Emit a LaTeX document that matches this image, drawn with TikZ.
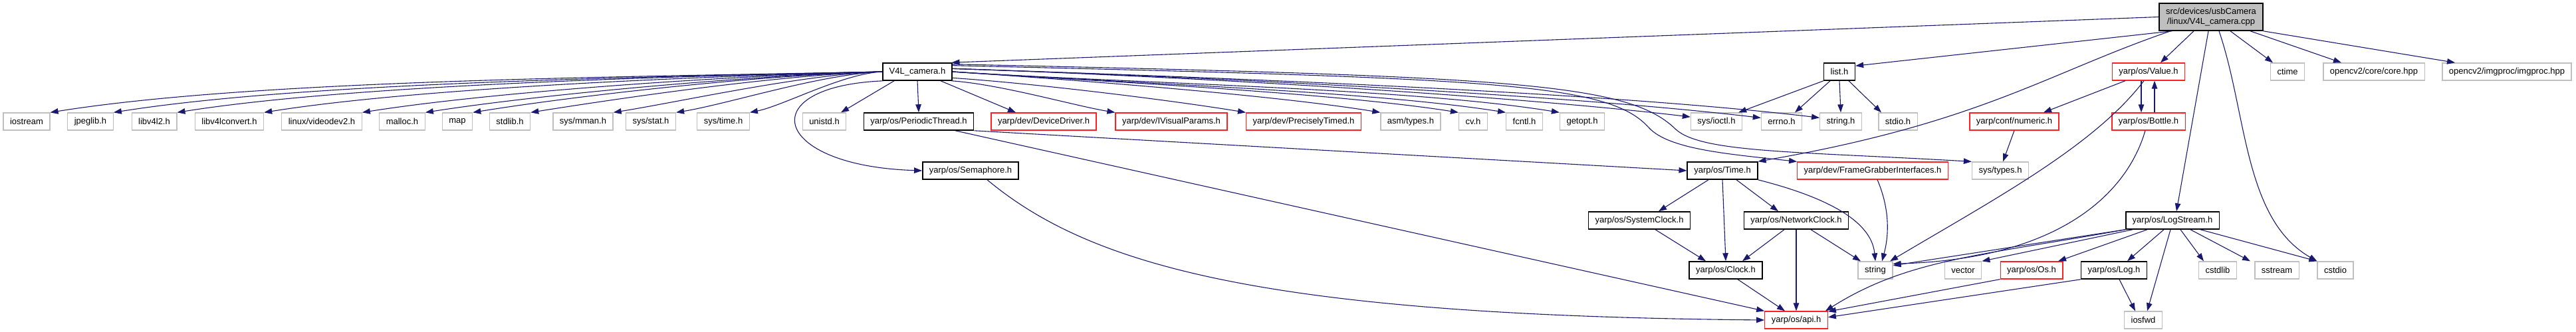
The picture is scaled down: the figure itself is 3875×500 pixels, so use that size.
\documentclass[tikz,border=0pt]{standalone}
\usepackage{fontspec}
\setmainfont{Liberation Sans}
\usetikzlibrary{arrows.meta}
\definecolor{edgeblue}{HTML}{191970}
\definecolor{boxgray}{HTML}{BFBFBF}
\definecolor{boxred}{HTML}{FF2020}
\tikzset{
  >={Triangle[length=12pt,width=8.5pt]},
  bx/.style={rectangle,draw,minimum height=26pt,inner xsep=10pt,inner ysep=0pt,line width=1.3pt,font=\fontsize{13}{15}\selectfont},
  hdr/.style={bx,draw=black,line width=1.6pt},
  sysh/.style={bx,draw=boxgray},
  trunc/.style={bx,draw=boxred},
  dep/.style={->,draw=edgeblue,line width=1.1pt},
}
\begin{document}
\begin{tikzpicture}[x=1pt,y=1pt]
\useasboundingbox (0,0) rectangle (3875,-500);
\node[hdr,fill=boxgray,align=center,minimum height=41pt] (root) at (3326,-25.5){src/devices/usbCamera\\/linux/V4L\_camera.cpp};
\node[hdr] (cam) at (1380,-108){V4L\_camera.h}; \node[hdr] (list) at (2767,-108){list.h};
\node[trunc] (value) at (3232,-108){yarp/os/Value.h}; \node[sysh] (ctime) at (3441,-108){ctime};
\node[sysh] (core) at (3571,-108){opencv2/core/core.hpp}; \node[sysh] (imgproc) at (3771,-108){opencv2/imgproc/imgproc.hpp};
\node[sysh] (iostr) at (40,-183){iostream}; \node[sysh] (jpeg) at (136,-183){jpeglib.h}; \node[sysh] (vtwo) at (232,-183){libv4l2.h};
\node[sysh] (vconv) at (345,-183){libv4lconvert.h}; \node[sysh] (vdev) at (484,-183){linux/videodev2.h}; \node[sysh] (malloc) at (605,-183){malloc.h};
\node[sysh] (map) at (688,-183){map}; \node[sysh] (stdlibh) at (767,-183){stdlib.h}; \node[sysh] (mman) at (877,-183){sys/mman.h};
\node[sysh] (stat) at (979,-183){sys/stat.h}; \node[sysh] (systime) at (1088,-183){sys/time.h}; \node[sysh] (unistd) at (1240,-183){unistd.h};
\node[hdr] (pthread) at (1382,-183){yarp/os/PeriodicThread.h}; \node[trunc] (devdrv) at (1570,-183){yarp/dev/DeviceDriver.h};
\node[trunc] (ivis) at (1762,-183){yarp/dev/IVisualParams.h}; \node[trunc] (ptimed) at (1961,-183){yarp/dev/PreciselyTimed.h};
\node[sysh] (asmt) at (2122,-183){asm/types.h}; \node[sysh] (cvh) at (2216,-183){cv.h}; \node[sysh] (fcntl) at (2293,-183){fcntl.h};
\node[sysh] (getopt) at (2380,-183){getopt.h}; \node[sysh] (ioctl) at (2582,-183){sys/ioctl.h}; \node[sysh] (errno) at (2680,-183){errno.h};
\node[sysh] (stringh) at (2769,-183){string.h}; \node[sysh] (stdio) at (2855,-183){stdio.h};
\node[trunc] (numeric) at (3030,-183){yarp/conf/numeric.h}; \node[trunc] (bottle) at (3232,-183){yarp/os/Bottle.h};
\node[hdr] (sem) at (1460,-257){yarp/os/Semaphore.h}; \node[hdr] (time) at (2591,-257){yarp/os/Time.h};
\node[trunc] (fgi) at (2817,-257){yarp/dev/FrameGrabberInterfaces.h}; \node[sysh] (systypes) at (3009,-257){sys/types.h};
\node[hdr] (sysclk) at (2466,-332){yarp/os/SystemClock.h}; \node[hdr] (netclk) at (2702,-332){yarp/os/NetworkClock.h};
\node[hdr] (logs) at (3268,-332){yarp/os/LogStream.h};
\node[hdr] (clock) at (2596,-407){yarp/os/Clock.h}; \node[sysh] (str) at (2821,-407){string}; \node[sysh] (vec) at (2953,-407){vector};
\node[trunc] (os) at (3056,-407){yarp/os/Os.h}; \node[hdr] (log) at (3180,-407){yarp/os/Log.h}; \node[sysh] (cstdlib) at (3336,-407){cstdlib};
\node[sysh] (sstream) at (3425,-407){sstream}; \node[sysh] (cstdio) at (3513,-407){cstdio};
\node[trunc] (api) at (2702,-482){yarp/os/api.h}; \node[sysh] (iosfwd) at (3224,-482){iosfwd};
\draw[dep] (root.west)--(cam.15); \draw[dep] (root.200)--(list.20); \draw[dep] ([xshift=-26pt]root.south)--([xshift=18pt]value.north);
\draw[dep] ([xshift=-61pt]root.south) .. controls (3080,-110) and (2980,-185) .. (time.north east);
\draw[dep] ([xshift=-4pt]root.south)--([xshift=6pt]logs.north);
\draw[dep] ([xshift=12pt]root.south) .. controls (3380,-170) and (3375,-330) .. (cstdio.north west);
\draw[dep] ([xshift=29pt]root.south)--([xshift=-22pt]ctime.north); \draw[dep] ([xshift=59pt]root.south)--([xshift=-49pt]core.north);
\draw[dep] (root.south east)--([xshift=-78pt]imgproc.north);
\draw[dep] (list.south west)--([xshift=-6pt]ioctl.north east); \draw[dep] ([xshift=-14pt]list.south)--([xshift=20pt]errno.north);
\draw[dep] (list.south)--(stringh.north); \draw[dep] ([xshift=14pt]list.south)--([xshift=-25pt]stdio.north);
\draw[dep] ([xshift=-35pt]value.south)--([xshift=44pt]numeric.north); \draw[dep] ([xshift=-11pt]value.south)--([xshift=-11pt]bottle.north);
\draw[dep] ([xshift=9pt]bottle.north)--([xshift=9pt]value.south);
\draw[dep] ([xshift=-7pt]value.south) .. controls (3150,-220) and (3000,-300) .. ([xshift=22pt]str.north);
\draw[dep] (numeric.south)--([xshift=4pt]systypes.north);
\draw[dep] ([xshift=-5pt]bottle.south) .. controls (3200,-290) and (3100,-390) .. (str.20);
\draw[dep] (cam.west) .. controls +(-375,-8) and +(313,50) .. (iostr.north east);
\draw[dep] (cam.west) .. controls +(-347,-8) and +(289,46) .. (jpeg.north east);
\draw[dep] (cam.west) .. controls +(-318,-7) and +(265,42) .. (vtwo.north east);
\draw[dep] (cam.west) .. controls +(-279,-7) and +(232,37) .. (vconv.north east);
\draw[dep] (cam.west) .. controls +(-235,-6) and +(196,31) .. (vdev.north east);
\draw[dep] (cam.west) .. controls +(-206,-6) and +(172,27) .. (malloc.north east);
\draw[dep] (cam.west) .. controls +(-185,-5) and +(154,25) .. (map.north east);
\draw[dep] (cam.west) .. controls +(-159,-5) and +(132,21) .. (stdlibh.north east);
\draw[dep] (cam.west) .. controls +(-119,-4) and +(100,16) .. (mman.north east);
\draw[dep] (cam.west) .. controls +(-94,-4) and +(79,13) .. (stat.north east);
\draw[dep] (cam.west) .. controls +(-60,-3) and +(50,10) .. (systime.north east);
\draw[dep] ([xshift=-35pt]cam.south)--([xshift=25pt]unistd.north); \draw[dep] (cam.south)--(pthread.north);
\draw[dep] ([xshift=35pt]cam.south)--([xshift=-42pt]devdrv.north);
\draw[dep] (cam.-15) .. controls +(73,-5) and +(-61,10) .. (ivis.north west);
\draw[dep] (cam.-10) .. controls +(132,-9) and +(-110,18) .. (ptimed.north west);
\draw[dep] (cam.east) .. controls +(193,-13) and +(-160,26) .. (asmt.north west);
\draw[dep] (cam.east) .. controls +(228,-15) and +(-190,30) .. (cvh.north west);
\draw[dep] (cam.east) .. controls +(249,-17) and +(-208,33) .. (fcntl.north west);
\draw[dep] (cam.east) .. controls +(274,-18) and +(-228,37) .. (getopt.north west);
\draw[dep] (cam.5) .. controls +(332,-11) and +(-277,33) .. (ioctl.170);
\draw[dep] (cam.5) .. controls +(365,-12) and +(-304,36) .. (errno.170);
\draw[dep] (cam.5) .. controls +(390,-13) and +(-325,39) .. (stringh.170);
\draw[dep] (cam.10) .. controls (2250,-118) and (2420,-125) .. (2480,-192) .. controls (2510,-225) and (2600,-232) .. (fgi.north west);
\draw[dep] (cam.12) .. controls (2280,-115) and (2450,-125) .. (2521,-195) .. controls (2560,-230) and (2700,-228) .. (systypes.north west);
\draw[dep] (cam.195) .. controls (1130,-130) and (1160,-250) .. (sem.west);
\draw[dep] (pthread.south east)--(time.west); \draw[dep] ([xshift=55pt]pthread.south)--(api.north west);
\draw[dep] ([xshift=25pt]sem.south) .. controls (1640,-400) and (1900,-475) .. (api.west);
\draw[dep] ([xshift=-21pt]time.south)--([xshift=29pt]sysclk.north); \draw[dep] (time.south)--(clock.north);
\draw[dep] ([xshift=21pt]time.south)--([xshift=-27pt]netclk.north);
\draw[dep] (time.south east) .. controls (2740,-295) and (2815,-330) .. (str.north);
\draw[dep] ([xshift=7pt]fgi.south) .. controls (2845,-320) and (2840,-360) .. ([xshift=10pt]str.north);
\draw[dep] ([xshift=24pt]sysclk.south)--([xshift=-30pt]clock.north); \draw[dep] ([xshift=-18pt]netclk.south)--([xshift=25pt]clock.north);
\draw[dep] (netclk.south)--(api.north); \draw[dep] ([xshift=22pt]netclk.south)--([xshift=-22pt]str.north);
\draw[dep] ([xshift=18pt]clock.south)--([xshift=-17pt]api.north);
\draw[dep] (logs.south west)--(str.15); \draw[dep] ([xshift=-60pt]logs.south)--(vec.north east);
\draw[dep] (logs.south west) .. controls (2980,-385) and (2870,-390) .. ([xshift=-4pt]api.north east);
\draw[dep] ([xshift=-38pt]logs.south)--([xshift=40pt]os.north); \draw[dep] ([xshift=-13pt]logs.south)--([xshift=20pt]log.north);
\draw[dep] ([xshift=-3pt]logs.south)--([xshift=6pt]iosfwd.north); \draw[dep] ([xshift=12pt]logs.south)--([xshift=-21pt]cstdlib.north);
\draw[dep] ([xshift=27pt]logs.south)--([xshift=-40pt]sstream.north); \draw[dep] ([xshift=42pt]logs.south)--(cstdio.north west);
\draw[dep] ([xshift=8pt]log.south)--([xshift=-12pt]iosfwd.north); \draw[dep] (log.south west)--(api.5); \draw[dep] (os.south west)--(api.15);
\end{tikzpicture}
\end{document}
